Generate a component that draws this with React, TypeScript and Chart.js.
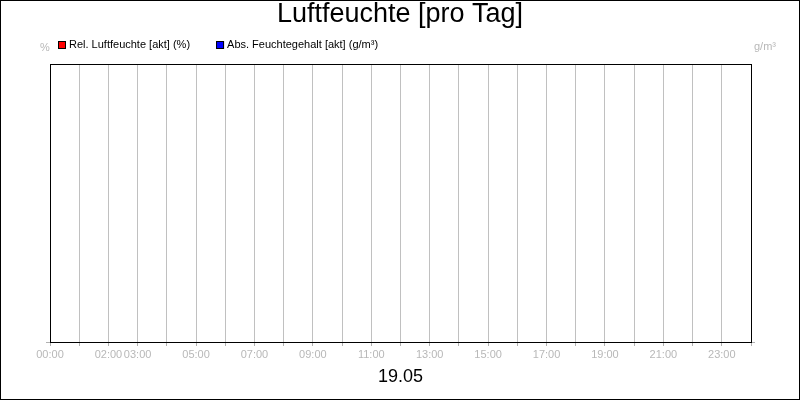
import React, { useEffect, useRef } from 'react';
import Chart from 'chart.js/auto';

const chartTitle = 'Luftfeuchte [pro Tag]';
const dayLabel = '19.05';
const unitLeft = '%';
const unitRight = 'g/m³';

const seriesNames = ['Rel. Luftfeuchte [akt] (%)', 'Abs. Feuchtegehalt [akt] (g/m³)'];
const seriesColors = ['#ff0000', '#0000ff'];

// no measurements for this day
const relHumidity: { x: number; y: number }[] = [];
const absHumidity: { x: number; y: number }[] = [];

const hourMin = 0;
const hourMax = 24;
const tickLabels = ['00:00', '02:00', '03:00', '05:00', '07:00', '09:00', '11:00', '13:00', '15:00', '17:00', '19:00', '21:00', '23:00'];

const FONT = '"Liberation Sans", Arial, sans-serif';
const GRID = '#c0c0c0';
const TICK_TEXT = '#b8b8b8';

const frameAndLegend = {
  id: 'frameAndLegend',
  afterDraw(chart: Chart) {
    const { ctx, chartArea, width, height } = chart;
    ctx.save();

    // plot frame
    ctx.strokeStyle = '#000';
    ctx.lineWidth = 1;
    ctx.strokeRect(Math.round(chartArea.left) + 0.5, Math.round(chartArea.top) + 0.5,
      Math.round(chartArea.right - chartArea.left), Math.round(chartArea.bottom - chartArea.top));

    // outer border
    ctx.strokeRect(0.5, 0.5, width - 1, height - 1);

    // legend
    ctx.font = `11px ${FONT}`;
    ctx.textBaseline = 'middle';
    ctx.textAlign = 'left';
    let x = 58;
    const y = 45;
    chart.data.datasets.forEach((ds) => {
      ctx.fillStyle = ds.backgroundColor as string;
      ctx.fillRect(x, y - 4, 8, 8);
      ctx.strokeStyle = '#000';
      ctx.strokeRect(x + 0.5, y - 3.5, 7, 7);
      ctx.fillStyle = '#000';
      const label = ds.label ?? '';
      ctx.fillText(label, x + 11, y);
      x += 11 + ctx.measureText(label).width + 26;
    });

    // units
    ctx.fillStyle = TICK_TEXT;
    ctx.textAlign = 'center';
    ctx.fillText(unitLeft, 45, 48);
    ctx.textAlign = 'left';
    ctx.fillText(unitRight, 754, 47);

    ctx.restore();
  },
};

const HumidityChart: React.FC = () => {
  const chartRef = useRef<HTMLCanvasElement>(null);

  useEffect(() => {
    document.body.style.margin = '0';
    if (!chartRef.current) return;

    const chart = new Chart(chartRef.current, {
      type: 'line',
      data: {
        datasets: [
          { label: seriesNames[0], data: relHumidity, yAxisID: 'y', borderColor: seriesColors[0], backgroundColor: seriesColors[0] },
          { label: seriesNames[1], data: absHumidity, yAxisID: 'y1', borderColor: seriesColors[1], backgroundColor: seriesColors[1] },
        ],
      },
      options: {
        animation: false,
        responsive: true,
        maintainAspectRatio: false,
        layout: { padding: 0 },
        plugins: {
          legend: { display: false },
          tooltip: { enabled: false },
          title: {
            display: true,
            text: chartTitle,
            color: '#000',
            font: { family: FONT, size: 27, weight: 'normal', lineHeight: 1 },
            padding: { top: 1.5, bottom: 35.5 },
          },
        },
        scales: {
          x: {
            type: 'linear',
            min: hourMin,
            max: hourMax,
            ticks: {
              stepSize: 1,
              autoSkip: false,
              maxRotation: 0,
              padding: 2,
              color: TICK_TEXT,
              font: { family: FONT, size: 11 },
              callback: (value) => {
                const label = `${String(value).padStart(2, '0')}:00`;
                return tickLabels.includes(label) ? label : '';
              },
            },
            grid: { color: GRID, tickColor: '#b0b0b0', tickLength: 4 },
            border: { color: '#000' },
            title: {
              display: true,
              text: dayLabel,
              color: '#000',
              font: { family: FONT, size: 18 },
              padding: { top: 0, bottom: 12 },
            },
            afterFit: (scale) => { scale.height = 58; },
          },
          y: {
            position: 'left',
            min: 0,
            max: 100,
            ticks: { display: false },
            grid: { drawOnChartArea: false, tickColor: '#b0b0b0', tickLength: 4 },
            border: { color: '#000' },
            afterBuildTicks: (scale) => { scale.ticks = [{ value: 0 }]; },
            afterFit: (scale) => { scale.width = 50; },
          },
          y1: {
            position: 'right',
            min: 0,
            max: 25,
            ticks: { display: false },
            grid: { drawOnChartArea: false, tickColor: '#b0b0b0', tickLength: 4 },
            border: { color: '#000' },
            afterBuildTicks: (scale) => { scale.ticks = [{ value: 0 }]; },
            afterFit: (scale) => { scale.width = 49; },
          },
        },
      },
      plugins: [frameAndLegend],
    });

    return () => {
      chart.destroy();
    };
  }, []);

  return (
    <div style={{ position: 'relative', width: 800, height: 400, background: '#fff' }}>
      <canvas ref={chartRef} />
    </div>
  );
};

export default function App() {
  return <HumidityChart />;
}
